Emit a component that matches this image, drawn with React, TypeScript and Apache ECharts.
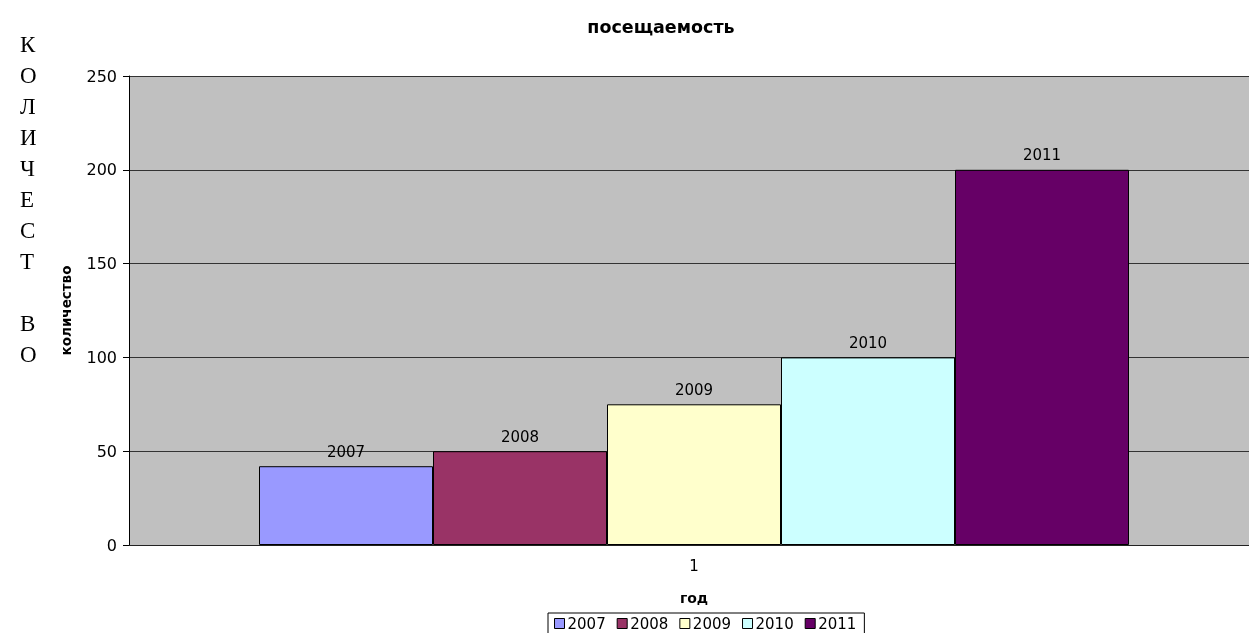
import React, { useEffect, useRef } from "react";
import * as echarts from "echarts";

const categories = ["1"];
const seriesNames = ["2007", "2008", "2009", "2010", "2011"];
const seriesValues = [42, 50, 75, 100, 200];
const seriesColors = ["#9999FF", "#993366", "#FFFFCC", "#CCFFFF", "#660066"];
const sideLetters = ["К", "О", "Л", "И", "Ч", "Е", "С", "Т", "", "В", "О"];

export default function App() {
  const ref = useRef<HTMLDivElement>(null);
  useEffect(() => {
    if (!ref.current) return;
    const chart = echarts.init(ref.current, undefined, { renderer: "svg" });
    const font = "DejaVu Sans, Arial, sans-serif";
    chart.setOption({
      animation: false,
      title: {
        text: "посещаемость",
        left: 656,
        top: 13,
        textAlign: "center",
        textStyle: { fontFamily: font, fontSize: 17.5, fontWeight: "bold", color: "#000" },
      },
      grid: {
        left: 129,
        top: 76,
        bottom: 88,
        right: 0,
        show: true,
        backgroundColor: "#C0C0C0",
        borderWidth: 0,
      },
      legend: {
        data: seriesNames,
        left: 548,
        top: 613,
        orient: "horizontal",
        icon: "rect",
        itemWidth: 10,
        itemHeight: 10,
        itemGap: 11,
        padding: [3, 8, 3, 6],
        borderColor: "#000",
        borderWidth: 1,
        itemStyle: { borderColor: "#000", borderWidth: 1 },
        textStyle: { fontFamily: font, fontSize: 15, color: "#000", padding: [0, 0, 0, -2] },
      },
      xAxis: {
        type: "category",
        data: categories,
        name: "год",
        nameLocation: "middle",
        nameGap: 46,
        nameTextStyle: { fontFamily: font, fontSize: 14, fontWeight: "bold", color: "#000" },
        axisLine: { lineStyle: { color: "#222", width: 1 } },
        axisTick: { show: false },
        axisLabel: { fontFamily: font, fontSize: 15, color: "#000", margin: 13 },
      },
      yAxis: {
        type: "value",
        min: 0,
        max: 250,
        interval: 50,
        name: "количество",
        nameLocation: "middle",
        nameGap: 56,
        nameTextStyle: {
          fontFamily: font,
          fontSize: 13.5,
          fontWeight: "bold",
          color: "#000",
        },
        axisLine: { show: true, lineStyle: { color: "#000", width: 1 } },
        axisTick: { show: true, length: 6, lineStyle: { color: "#000" } },
        axisLabel: { fontFamily: font, fontSize: 16, color: "#000", margin: 12 },
        splitLine: { show: true, lineStyle: { color: "#333", width: 1 } },
      },
      series: seriesNames.map((name, i) => ({
        name,
        type: "bar",
        data: [seriesValues[i]],
        barWidth: 174,
        barGap: "0%",
        itemStyle: { color: seriesColors[i], borderColor: "#000", borderWidth: 1 },
        label: {
          show: true,
          position: "top",
          distance: 7,
          formatter: name,
          fontFamily: font,
          fontSize: 15,
          color: "#000",
        },
      })),
      graphic: sideLetters.map((ch, i) => ({
        type: "text",
        left: 20,
        top: 33 + i * 31,
        style: {
          text: ch,
          fontFamily: "Liberation Serif, Times New Roman, serif",
          fontSize: 23,
          fill: "#000",
        },
      })),
    });
    return () => chart.dispose();
  }, []);
  return (
    <div
      ref={ref}
      style={{ position: "fixed", left: 0, top: 0, width: 1259, height: 633 }}
    />
  );
}
